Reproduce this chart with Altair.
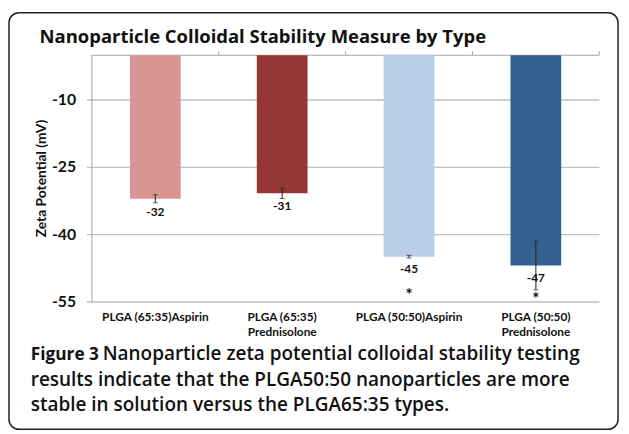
import altair as alt
import pandas as pd

# ---- data ----
categories = ["PLGA (65:35)Aspirin", "PLGA (65:35)\nPrednisolone",
              "PLGA (50:50)Aspirin", "PLGA (50:50)\nPrednisolone"]
zeta = [-32.0, -30.8, -44.9, -46.9]          # mV
err = [0.9, 1.15, 0.3, 5.4]                  # +/- error
stars = ["", "", "*", "*"]
star_pos = [-52.0, -52.0, -52.8, -53.8]
colors = ["#D99594", "#953735", "#B9CDE5", "#376092"]
y_ticks = [-10, -25, -40, -55]

title_text = "Nanoparticle Colloidal Stability Measure by Type"
y_title = "Zeta Potential (mV)"
caption_bold = "Figure 3"
caption_lines = [
    "Nanoparticle zeta potential colloidal stability testing",
    "results indicate that the PLGA50:50 nanoparticles are more",
    "stable in solution versus the PLGA65:35 types.",
]

df = pd.DataFrame({
    "cat": categories,
    "value": zeta,
    "lo": [v - e for v, e in zip(zeta, err)],
    "hi": [v + e for v, e in zip(zeta, err)],
    "star": stars,
    "star_y": star_pos,
})
ticks_df = pd.DataFrame({"t": y_ticks})

FONT = "Lato"
CAP_FONT = "Open Sans"
GRID = "#BFBFBF"
AX = "#A6A6A6"
INK = "#111111"

W = 514
H = 250
STEP = W / 4.0

yscale = alt.Scale(domain=[-55, 0], nice=False, zero=False)
xscale = alt.Scale(paddingInner=0.6, paddingOuter=0.3)
x_plain = alt.X("cat:N", sort=categories, scale=xscale, axis=None)

base = alt.Chart(df)
tbase = alt.Chart(ticks_df)
one = pd.DataFrame({"k": [0]})

# horizontal gridlines (with the small outward tick at the left)
grid = tbase.mark_rect(filled=False, stroke=GRID, strokeWidth=1).encode(
    y=alt.Y("t:Q", scale=yscale, axis=None), y2="t:Q",
    x=alt.value(-5), x2=alt.value(W))

# y axis line and category line along the top (value 0)
y_line = alt.Chart(one).mark_rect(fill=AX).encode(
    x=alt.value(-0.5), x2=alt.value(0.5), y=alt.value(0), y2=alt.value(H))
top_line = alt.Chart(one).mark_rect(fill=AX).encode(
    x=alt.value(-0.5), x2=alt.value(W), y=alt.value(-0.5), y2=alt.value(0.5))

y_labels = tbase.transform_calculate(
    lab="replace(format(datum.t, 'd'), '\u2212', '-')"
).mark_text(font=FONT, fontSize=16, fontWeight="bold", color=INK,
            align="right", baseline="middle").encode(
    y=alt.Y("t:Q", scale=yscale, axis=None), x=alt.value(-16), text="lab:N")

y_title_mark = alt.Chart(one).mark_text(text=y_title, font=FONT, fontSize=14, fontWeight="bold",
                                        color=INK, angle=270, align="center",
                                        baseline="middle").encode(
    x=alt.value(-50), y=alt.value(H / 2))

bars = base.mark_bar().encode(
    x=x_plain,
    y=alt.Y("value:Q", scale=yscale, axis=None),
    color=alt.Color("cat:N", sort=categories,
                    scale=alt.Scale(domain=categories, range=colors), legend=None),
)

# small ticks above the category line, at the boundaries between categories
top_ticks = base.transform_calculate(t0="0", t1="0.88").mark_bar(
    color=AX, width=1, xOffset=STEP / 2).encode(
    x=x_plain, y=alt.Y("t0:Q", scale=yscale, axis=None), y2="t1:Q")

x_labels = base.mark_text(font=FONT, fontSize=12, fontWeight="bold", color=INK,
                          baseline="top", lineBreak="\n", lineHeight=16).encode(
    x=x_plain, y=alt.value(260), text="cat:N")

err_rule = base.mark_rule(color="#222222", strokeWidth=1).encode(
    x=x_plain, y=alt.Y("lo:Q", scale=yscale, axis=None), y2="hi:Q")
cap_lo = base.mark_tick(color="#222222", thickness=1, size=5).encode(
    x=x_plain, y=alt.Y("lo:Q", scale=yscale, axis=None))
cap_hi = base.mark_tick(color="#222222", thickness=1, size=5).encode(
    x=x_plain, y=alt.Y("hi:Q", scale=yscale, axis=None))

labels = base.transform_calculate(
    lab="replace(format(datum.value, '.0f'), '\u2212', '-')"
).mark_text(font=FONT, fontSize=12, fontWeight="bold", color=INK, dy=13,
            baseline="middle").encode(
    x=x_plain, y=alt.Y("value:Q", scale=yscale, axis=None), text="lab:N")

star_marks = base.mark_text(font=FONT, fontSize=17, fontWeight="bold", color=INK,
                            baseline="middle", dy=4).encode(
    x=x_plain, y=alt.Y("star_y:Q", scale=yscale, axis=None), text="star:N")

frame = alt.Chart(one).mark_rect(filled=False, stroke="#222222", strokeWidth=1.5,
                                  cornerRadius=10).encode(
    x=alt.value(-84), x2=alt.value(533), y=alt.value(-43), y2=alt.value(379))

title = alt.Chart(one).mark_text(text=title_text, font=CAP_FONT, fontSize=18.7, fontWeight="bold",
                                 color=INK, align="left", baseline="alphabetic").encode(
    x=alt.value(-53), y=alt.value(-12))

cap_layers = [
    alt.Chart(one).mark_text(text=caption_bold, font=CAP_FONT, fontSize=17.5, fontWeight="bold",
                             color=INK, align="left", baseline="alphabetic").encode(
        x=alt.value(-62), y=alt.value(309))
]
for i, line in enumerate(caption_lines):
    cap_layers.append(
        alt.Chart(one).mark_text(text=line, font=CAP_FONT, fontSize=19.2, fontWeight=600,
                                 color=INK, align="left", baseline="alphabetic").encode(
            x=alt.value(-62 + (73 if i == 0 else 0)), y=alt.value(309 + 25.7 * i)))

chart = alt.layer(grid, y_line, top_line, y_labels, y_title_mark, bars, top_ticks, x_labels,
                  err_rule, cap_lo, cap_hi, labels, star_marks,
                  title, *cap_layers, frame).properties(
    width=W, height=H,
    autosize=alt.AutoSizeParams(type="none"),
    padding={"left": 85, "top": 45, "right": 22, "bottom": 131},
    background="white",
).configure_view(stroke=None)

chart.save("out.html", embed_options={"renderer": "svg", "actions": False})
